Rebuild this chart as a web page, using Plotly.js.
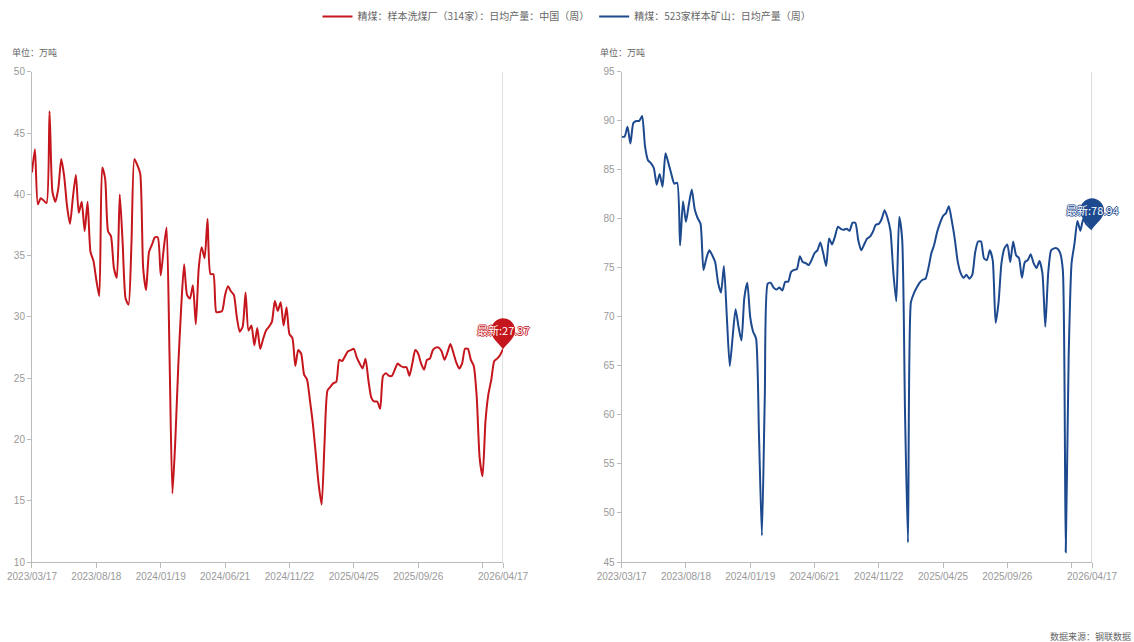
<!DOCTYPE html>
<html>
<head>
<meta charset="utf-8">
<script src="https://cdn.plot.ly/plotly-3.0.1.min.js"></script>
<style>html,body{margin:0;padding:0;background:#fff;}#chart{width:1134px;height:642px;}</style>
</head>
<body>
<div id="chart"></div>
<script>
// weekly observation dates, 2023/03/17 .. 2026/04/17
const startDate = '2023-03-17';
const weekCount = 162;
const dates = [];
(function(){
  const t0 = Date.parse(startDate + 'T00:00:00Z');
  for (let i = 0; i < weekCount; i++) dates.push(new Date(t0 + i * 7 * 86400000).toISOString().slice(0, 10));
})();

const seriesNameLeft = '精煤：样本洗煤厂（314家）：日均产量：中国（周）';
const seriesNameRight = '精煤：523家样本矿山：日均产量（周）';

// 精煤：样本洗煤厂（314家）：日均产量 (万吨)
const washPlantOutput = [
  41.8,43.7,39.2,39.7,39.5,39.3,46.8,40.2,39.4,40.5,
  42.9,41.5,39.0,37.6,39.8,41.6,38.5,39.4,37.0,39.4,
  35.3,34.6,33.0,31.7,42.2,41.3,37.0,36.6,34.0,33.2,
  40.0,36.0,31.5,31.0,36.0,42.9,42.4,41.7,34.0,32.2,
  35.3,35.9,36.5,36.5,33.4,35.5,37.3,27.0,15.6,20.0,
  26.0,30.8,34.3,31.8,31.5,32.6,29.4,34.0,35.7,34.8,
  38.0,33.5,33.5,30.4,30.4,30.5,31.8,32.5,32.1,31.8,
  30.0,28.8,29.2,32.0,28.9,29.3,27.7,29.1,27.4,28.2,
  28.9,29.2,29.6,31.3,30.5,31.2,29.3,30.8,28.6,28.3,
  26.0,27.3,27.0,25.3,24.9,23.2,21.3,18.8,16.3,14.7,
  19.8,24.0,24.3,24.6,24.7,26.5,26.4,26.8,27.2,27.3,
  27.4,26.7,26.2,25.8,26.6,24.8,23.4,23.1,23.1,22.5,
  25.2,25.4,25.2,25.2,25.7,26.2,26.0,25.9,25.9,25.2,
  26.2,27.3,27.0,26.2,25.7,26.5,26.6,27.3,27.5,27.5,
  27.2,26.5,27.1,27.8,27.1,26.3,25.8,26.2,27.4,27.4,
  26.5,26.0,23.5,18.5,17.0,21.5,23.7,24.9,26.4,26.6,
  26.9,27.37
];

// 精煤：523家样本矿山：日均产量 (万吨)
const mineOutput = [
  88.4,88.4,89.4,87.7,89.8,90.0,90.0,90.5,87.4,86.0,
  85.7,85.2,83.5,84.6,83.3,86.7,85.7,84.6,83.6,83.7,
  77.3,81.8,79.7,81.5,83.0,81.0,80.1,79.5,74.8,76.0,
  76.8,76.3,75.6,73.5,72.5,75.2,70.0,65.0,68.0,70.8,
  69.0,67.6,72.0,73.5,70.0,68.5,67.8,58.0,47.7,62.0,
  73.4,73.5,73.0,72.8,73.0,72.7,73.6,73.6,74.6,74.8,
  74.9,76.2,75.6,75.5,75.3,75.8,76.5,76.8,77.6,76.5,
  75.2,78.0,77.4,78.2,79.2,79.0,78.9,79.0,78.8,79.6,
  79.6,77.8,76.8,77.4,78.0,78.2,78.7,79.4,79.5,80.0,
  80.9,80.1,78.8,74.5,71.6,80.2,78.0,60.0,47.0,71.5,
  72.4,73.0,73.5,73.8,73.9,75.0,76.5,77.4,78.7,79.6,
  80.3,80.6,81.3,79.8,78.0,75.7,74.5,74.0,74.3,73.9,
  74.3,76.6,77.7,77.7,76.0,75.8,76.8,75.8,69.4,71.5,
  75.5,77.0,77.4,75.6,77.7,76.3,76.0,74.0,75.6,75.8,
  76.4,75.5,75.0,75.7,74.5,69.0,74.5,76.8,77.0,77.0,
  76.6,74.8,46.0,66.0,75.5,77.5,79.8,78.8,80.0,79.5,
  79.2,78.94
];

const tickIndex = [0,22,44,66,88,110,132,154,161];
const tickHidden = [154];
const leftRange = [10, 50];
const rightRange = [45, 95];

const redColor = '#c5161d';
const blueColor = '#1d4a8f';
const tickVals = tickIndex.map(i => dates[i]);
const tickText = tickIndex.map(i => tickHidden.includes(i) ? '' : dates[i].replace(/-/g, '/'));
const lastDate = dates[dates.length - 1];
const lastLeft = washPlantOutput[washPlantOutput.length - 1];
const lastRight = mineOutput[mineOutput.length - 1];

const leftDomain = [0.0282, 0.4436];
const rightDomain = [0.5482, 0.963];
const yDomain = [0.1246, 0.8879];

const tickFont = {family: 'Liberation Sans, Arial, sans-serif', size: 10, color: '#999'};

const traces = [
  {x: dates, y: washPlantOutput, type: 'scatter', mode: 'lines', name: seriesNameLeft,
   line: {color: redColor, width: 2, shape: 'spline', smoothing: 0.6}, xaxis: 'x', yaxis: 'y', hoverinfo: 'x+y'},
  {x: dates, y: mineOutput, type: 'scatter', mode: 'lines', name: seriesNameRight,
   line: {color: blueColor, width: 2, shape: 'spline', smoothing: 0.6}, xaxis: 'x2', yaxis: 'y2', hoverinfo: 'x+y'}
];

function xAxis(domain, anchor) {
  return {domain: domain, anchor: anchor, type: 'date', range: [dates[0], lastDate],
    tickmode: 'array', tickvals: tickVals, ticktext: tickText,
    showline: true, linecolor: '#bbb', linewidth: 1, ticks: 'outside', ticklen: 5, tickcolor: '#bbb',
    tickfont: tickFont, showgrid: false, zeroline: false, fixedrange: true};
}
function yAxis(range, anchor) {
  return {domain: yDomain, anchor: anchor, range: range, dtick: 5, tick0: range[0],
    showline: true, linecolor: '#bbb', linewidth: 1, ticks: 'outside', ticklen: 4, tickcolor: '#bbb',
    tickfont: tickFont, showgrid: false, zeroline: false, fixedrange: true};
}

const pinPath = 'M0,0 C-5,7 -12,11 -12,19 C-12,26 -6,31 0,31 C6,31 12,26 12,19 C12,11 5,7 0,0 Z';
function pin(xPaper, yref, yv, range, color) {
  return {type: 'path', xref: 'paper', yref: yref + ' domain', xsizemode: 'pixel', ysizemode: 'pixel',
    xanchor: xPaper, yanchor: (yv - range[0]) / (range[1] - range[0]), path: pinPath,
    fillcolor: color, line: {width: 0}, layer: 'above'};
}
function vline(xref, yref) {
  return {type: 'line', xref: xref, yref: yref + ' domain', x0: lastDate, x1: lastDate, y0: 0, y1: 1,
    line: {color: '#bbb', width: 1}, layer: 'below'};
}
function pinLabel(xref, yref, yv, color) {
  const s = '1px 0 0 ' + color + ', -1px 0 0 ' + color + ', 0 1px 0 ' + color + ', 0 -1px 0 ' + color;
  return {xref: xref, yref: yref, x: lastDate, y: yv, yshift: 19, showarrow: false,
    text: '最新:' + yv, font: {family: 'Noto Sans CJK SC, Liberation Sans, sans-serif', size: 11, color: '#fff', shadow: s}};
}
const noteFont = {family: 'Noto Sans CJK SC, sans-serif', size: 9, color: '#666'};

const layout = {
  width: 1134, height: 642,
  margin: {l: 0, r: 0, t: 0, b: 0},
  paper_bgcolor: '#fff', plot_bgcolor: '#fff',
  showlegend: true,
  legend: {orientation: 'h', x: 0.5, xanchor: 'center', y: 0.997, yanchor: 'top',
    font: {family: 'Noto Sans CJK SC, sans-serif', size: 10, color: '#666'}, itemwidth: 30},
  xaxis: xAxis(leftDomain, 'y'),
  yaxis: yAxis(leftRange, 'x'),
  xaxis2: xAxis(rightDomain, 'y2'),
  yaxis2: yAxis(rightRange, 'x2'),
  shapes: [vline('x', 'y'), vline('x2', 'y2'),
    pin(leftDomain[1], 'y', lastLeft, leftRange, redColor),
    pin(rightDomain[1], 'y2', lastRight, rightRange, blueColor)],
  annotations: [
    pinLabel('x', 'y', lastLeft, redColor),
    pinLabel('x2', 'y2', lastRight, blueColor),
    {xref: 'paper', yref: 'paper', x: 10 / 1134, y: 1 - 52 / 642, xanchor: 'left', yanchor: 'middle', showarrow: false, text: '单位：万吨', font: noteFont},
    {xref: 'paper', yref: 'paper', x: 598 / 1134, y: 1 - 52 / 642, xanchor: 'left', yanchor: 'middle', showarrow: false, text: '单位：万吨', font: noteFont},
    {xref: 'paper', yref: 'paper', x: 1133 / 1134, y: 1 - 636 / 642, xanchor: 'right', yanchor: 'middle', showarrow: false, text: '数据来源：钢联数据', font: noteFont}
  ]
};

Plotly.newPlot('chart', traces, layout, {displayModeBar: false, responsive: false});
</script>
</body>
</html>
